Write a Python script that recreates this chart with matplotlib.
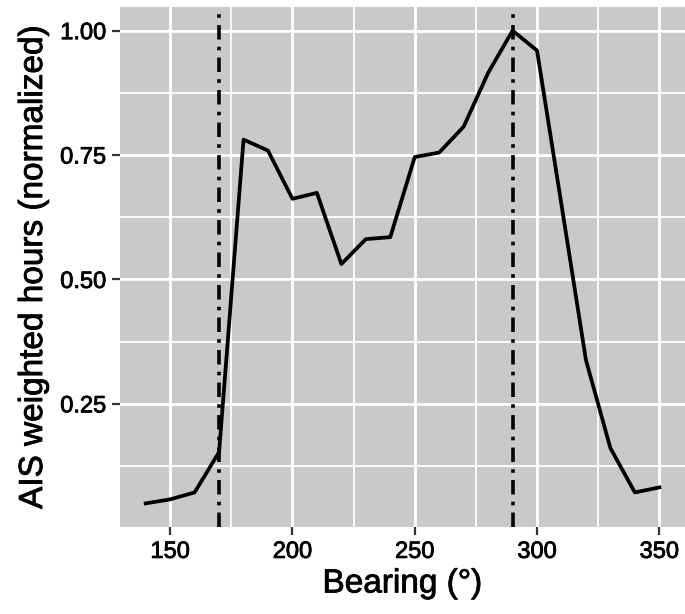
import numpy as np
import matplotlib
matplotlib.use("Agg")
import matplotlib.pyplot as plt
import matplotlib.patheffects as pe
from matplotlib.ticker import MultipleLocator

plt.rcParams['font.family'] = ['Liberation Sans', 'DejaVu Sans']

# data
bearing = [140, 150, 160, 170, 180, 190, 200, 210, 220, 230, 240,
           250, 260, 270, 280, 290, 300, 310, 320, 330, 340, 350]
hours = [0.050, 0.058, 0.072, 0.153, 0.781, 0.759, 0.662, 0.674, 0.531, 0.581, 0.585,
         0.746, 0.755, 0.807, 0.915, 1.000, 0.960, 0.650, 0.338, 0.161, 0.072, 0.082]
vlines = [170, 290]
xticks = [150, 200, 250, 300, 350]
yticks = [0.25, 0.50, 0.75, 1.00]
ytick_labels = ["0.25", "0.50", "0.75", "1.00"]

fig = plt.figure(figsize=(6.85, 6.14), dpi=100)
ax = fig.add_axes([0.1752, 0.1417, 0.8248, 0.8469])
ax.set_facecolor('#c9c9c9')

# ggplot-like expansion of 5%
xr = max(bearing) - min(bearing)
yr = max(hours) - min(hours)
ax.set_xlim(min(bearing) - 0.05 * xr, max(bearing) + 0.05 * xr)
ax.set_ylim(min(hours) - 0.05 * yr, max(hours) + 0.05 * yr)

ax.set_xticks(xticks)
ax.set_yticks(yticks)
ax.set_yticklabels(ytick_labels)
ax.xaxis.set_minor_locator(MultipleLocator(25))
ax.yaxis.set_minor_locator(MultipleLocator(0.125))
ax.grid(which='major', color='white', linewidth=2.0)
ax.grid(which='minor', color='white', linewidth=1.3)
ax.set_axisbelow(True)
ax.tick_params(which='minor', length=0)
ax.tick_params(which='major', length=6, width=1.6, color='#333333',
               labelsize=17, labelcolor='black', pad=4)
for s in ax.spines.values():
    s.set_visible(False)

ax.plot(bearing, hours, color='black', linewidth=2.7, zorder=3)
for v in vlines:
    ax.axvline(v, color='black', linewidth=2.6, linestyle=(0, (4, 2, 1, 2)), zorder=4)

ax.set_xlabel('Bearing (°)', fontsize=24, labelpad=4)
ax.set_ylabel('AIS weighted hours (normalized)', fontsize=24, labelpad=8)

# reference text looks a little heavier than plain regular
bold = [pe.withStroke(linewidth=0.6, foreground='black')]
for t in ax.get_xticklabels() + ax.get_yticklabels():
    t.set_path_effects(bold)
ax.xaxis.label.set_path_effects(bold)
ax.yaxis.label.set_path_effects(bold)

fig.savefig('out.png', dpi=100)
